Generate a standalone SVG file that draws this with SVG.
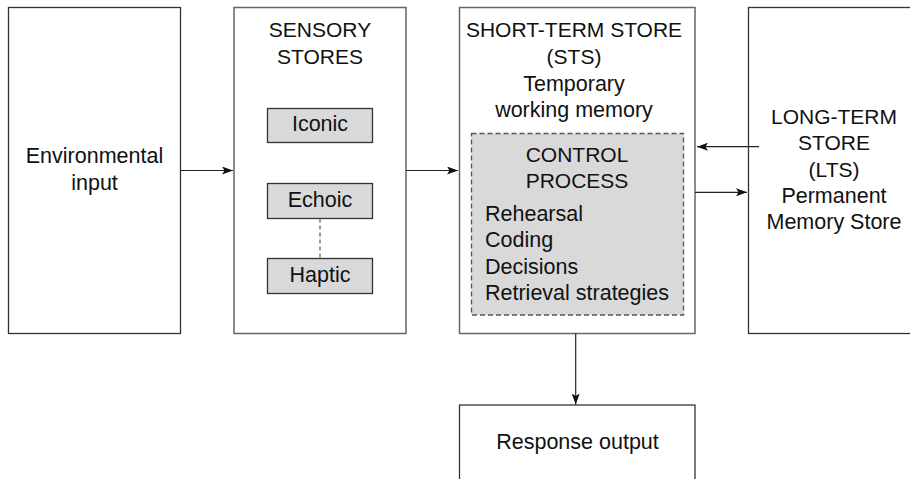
<svg xmlns="http://www.w3.org/2000/svg" width="910" height="479" viewBox="0 0 910 479">
<style>
.box{fill:#fff;stroke:#333;stroke-width:1.3}
.box2{fill:#fff;stroke:#666;stroke-width:1.5}
.sub{fill:#d9d9d9;stroke:#333;stroke-width:1.3}
.dash{fill:#d9d9d9;stroke:#555;stroke-width:1.3;stroke-dasharray:5,3}
.t{font-family:"Liberation Sans",Arial,sans-serif;font-size:21px;fill:#111;text-anchor:middle}
.l{text-anchor:start}
.lc{font-size:21.5px}
.c{stroke:#222;stroke-width:1.2;fill:none}
</style>
<defs>
<marker id="ah" markerUnits="userSpaceOnUse" markerWidth="11" markerHeight="8" viewBox="0 0 11 8" refX="11" refY="4" orient="auto">
<path d="M0,0 L11,4 L0,8 L2.5,4 z" fill="#111"/>
</marker>
</defs>
<g id="env">
<rect class="box" x="8.5" y="7.5" width="172" height="326"/>
<text class="t lc" x="94.5" y="163">Environmental</text>
<text class="t lc" x="94.5" y="190">input</text>
</g>
<g id="sensory">
<rect class="box2" x="234" y="7.5" width="172" height="326"/>
<text class="t" x="320" y="37">SENSORY</text>
<text class="t" x="320" y="63.5">STORES</text>
</g>
<g id="iconic">
<rect class="sub" x="267.5" y="108.5" width="105" height="34"/>
<text class="t lc" x="320" y="131">Iconic</text>
</g>
<g id="echoic">
<rect class="sub" x="267.5" y="183.5" width="105" height="35"/>
<text class="t lc" x="320" y="206.5">Echoic</text>
</g>
<g id="haptic">
<rect class="sub" x="267.5" y="258.5" width="105" height="35"/>
<text class="t lc" x="320" y="281.5">Haptic</text>
</g>
<g id="sts">
<rect class="box2" x="459.5" y="7.5" width="235.5" height="326"/>
<text class="t" x="574" y="37">SHORT-TERM STORE</text>
<text class="t" x="574" y="64">(STS)</text>
<text class="t lc" x="574" y="90.5">Temporary</text>
<text class="t lc" x="574" y="117">working memory</text>
</g>
<g id="control">
<rect class="dash" x="471.5" y="133.5" width="212" height="181.5"/>
<text class="t" x="577" y="161.5">CONTROL</text>
<text class="t" x="577" y="188">PROCESS</text>
<text class="t l lc" x="485" y="220.5">Rehearsal</text>
<text class="t l lc" x="485" y="247">Coding</text>
<text class="t l lc" x="485" y="273.5">Decisions</text>
<text class="t l lc" x="485" y="300">Retrieval strategies</text>
</g>
<g id="lts">
<rect class="box" x="748.5" y="7.5" width="180" height="326"/>
<text class="t" x="834" y="124">LONG-TERM</text>
<text class="t" x="834" y="150">STORE</text>
<text class="t" x="834" y="176.5">(LTS)</text>
<text class="t lc" x="834" y="202.5">Permanent</text>
<text class="t lc" x="834" y="229">Memory Store</text>
</g>
<g id="response">
<rect class="box" x="459.5" y="405" width="235.5" height="90"/>
<text class="t lc" x="577.5" y="449">Response output</text>
</g>
<g id="connectors">
<line class="c" x1="180.5" y1="170.5" x2="233" y2="170.5" marker-end="url(#ah)"/>
<line class="c" x1="406" y1="170.5" x2="458" y2="170.5" marker-end="url(#ah)"/>
<line class="c" x1="759" y1="146.7" x2="697" y2="146.7" marker-end="url(#ah)"/>
<line class="c" x1="695" y1="192.3" x2="747" y2="192.3" marker-end="url(#ah)"/>
<line class="c" x1="575.7" y1="333.5" x2="575.7" y2="404.5" marker-end="url(#ah)"/>
<line stroke="#666" stroke-width="1.3" stroke-dasharray="4,3" x1="320" y1="218.5" x2="320" y2="258.5"/>
</g>
</svg>
